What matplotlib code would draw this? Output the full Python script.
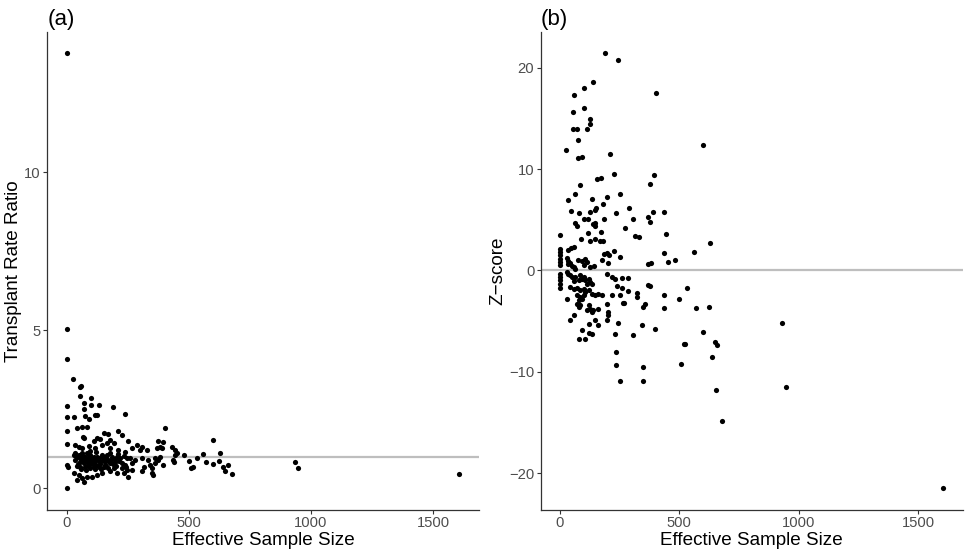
import matplotlib
matplotlib.use('Agg')
import matplotlib.pyplot as plt

plt.rcParams['font.family'] = ['Liberation Sans', 'DejaVu Sans']

# (effective sample size, transplant rate ratio)
ratio_pts = [
    (0, 13.77), (0, 5.03), (0, 4.1), (0, 2.61), (0, 2.25), (0, 1.82), (0, 1.41),
    (0, 0.72), (6, 0.66), (0, 0.02),
    (23, 3.47), (52, 3.2), (58, 3.25), (52, 2.93), (68, 2.69), (98, 2.84),
    (72, 2.51), (98, 2.63), (133, 2.63), (190, 2.57), (31, 2.25), (75, 2.29),
    (89, 2.19), (113, 2.32), (123, 2.32), (239, 2.36),
    (43, 1.90), (61, 1.95), (82, 1.95), (402, 1.90), (211, 1.81),
    (65, 1.63), (71, 1.58), (150, 1.74), (170, 1.71), (225, 1.67), (177, 1.53),
    (123, 1.58), (136, 1.55), (109, 1.50), (252, 1.50), (286, 1.37), (307, 1.29),
    (327, 1.21), (375, 1.48), (382, 1.32), (368, 1.26), (395, 1.47), (389, 1.27),
    (430, 1.29), (443, 1.21), (164, 1.42), (191, 1.42), (143, 1.37), (89, 1.34),
    (34, 1.37), (48, 1.32), (61, 1.26), (116, 1.26), (177, 1.26), (211, 1.21),
    (239, 1.16), (266, 1.26), (300, 1.21),
    (27, 1.05), (41, 1.00), (54, 0.95), (75, 1.00), (95, 1.05), (109, 1.00),
    (123, 1.00), (143, 1.05), (164, 1.05), (184, 1.00), (204, 1.00), (218, 0.95),
    (245, 0.95), (259, 0.95), (280, 0.90), (307, 0.95), (334, 0.90), (361, 0.95),
    (382, 1.00), (443, 1.05), (450, 1.11), (34, 0.90), (54, 0.84), (68, 0.79),
    (89, 0.84), (102, 0.79), (116, 0.86), (136, 0.84), (157, 0.82), (177, 0.79),
    (198, 0.84), (225, 0.79), (239, 0.74), (266, 0.79), (314, 0.68), (341, 0.74),
    (361, 0.79), (375, 0.90), (54, 0.68), (75, 0.68), (95, 0.63), (109, 0.68),
    (130, 0.68), (150, 0.68), (170, 0.63), (191, 0.65), (225, 0.63), (245, 0.58),
    (266, 0.58), (348, 0.63), (395, 0.74), (436, 0.88), (438, 0.82),
    (62, 1.10), (82, 1.12), (100, 0.92), (118, 1.15), (130, 0.95), (148, 0.90),
    (160, 0.96), (195, 0.92), (210, 1.08), (232, 1.02), (85, 0.72), (120, 0.75),
    (140, 0.62), (160, 0.70), (70, 0.92), (45, 0.78), (96, 1.18), (175, 1.12),
    (35, 1.12), (48, 1.05), (58, 0.88), (66, 1.02), (78, 0.86), (88, 0.96),
    (92, 0.74), (104, 0.88), (112, 0.72), (126, 0.90), (134, 0.76), (146, 0.98),
    (154, 0.74), (168, 0.88), (182, 0.90), (188, 0.76), (58, 0.60), (80, 0.58),
    (115, 0.60), (200, 0.70), (215, 0.86), (40, 0.70),
    (27, 0.47), (48, 0.42), (61, 0.32), (82, 0.37), (102, 0.37), (123, 0.42),
    (143, 0.47), (177, 0.53), (204, 0.47), (232, 0.47), (252, 0.34), (307, 0.53),
    (348, 0.47), (351, 0.42), (243, 0.68), (41, 0.26), (68, 0.21),
    (480, 1.04), (532, 0.95), (500, 0.87), (518, 0.68), (507, 0.63), (569, 0.84),
    (600, 0.76), (600, 1.53), (559, 1.09), (627, 1.12), (623, 0.86), (638, 0.68),
    (649, 0.55), (659, 0.72), (675, 0.44), (934, 0.84), (945, 0.65), (1608, 0.45),
]

# (effective sample size, z-score)
z_pts = [
    (190, 21.4), (242, 20.8), (137, 18.6), (100, 18.0), (61, 17.3), (403, 17.5),
    (53, 15.6), (100, 16.0), (128, 14.9), (128, 14.4), (53, 13.9), (71, 13.9),
    (114, 13.9), (77, 12.9), (25, 11.9), (600, 12.4), (77, 11.1), (92, 11.2),
    (210, 11.5), (225, 9.5), (156, 9.0), (173, 9.1), (85, 8.4), (377, 8.5),
    (396, 9.4), (64, 7.5), (250, 7.5), (33, 6.9), (135, 7.0), (198, 7.2),
    (181, 6.5), (153, 6.2), (149, 6.0), (46, 5.9), (79, 5.7), (125, 5.8),
    (233, 5.7), (288, 6.2), (392, 5.8), (435, 5.8), (63, 4.7), (70, 4.4),
    (100, 5.1), (117, 5.1), (139, 4.6), (149, 4.7), (149, 4.4), (183, 5.1),
    (308, 5.1), (370, 5.25), (379, 4.76), (271, 4.2), (173, 3.8), (117, 3.7),
    (2, 3.44), (315, 3.4), (332, 3.3), (444, 3.6), (88, 3.05), (124, 2.86),
    (149, 3.1), (167, 2.86), (181, 2.86), (628, 2.7), (33, 2.04), (47, 2.2),
    (61, 2.3), (2, 2.13), (2, 1.8), (2, 1.48), (2, 1.15), (2, 0.82), (2, 0.49),
    (183, 1.6), (176, 1.05), (225, 1.9), (250, 1.3), (203, 0.75), (436, 1.7),
    (561, 1.8), (452, 0.8), (482, 1.0), (368, 0.66), (382, 0.72), (77, 1.0),
    (107, 1.1), (114, 0.8), (142, 0.46), (128, 0.33), (28, 1.2), (35, 0.9),
    (42, 0.75), (196, 1.7), (205, 1.5), (92, 0.9), (99, 0.55), (57, 0.3),
    (64, 0.15), (36, 0.6), (50, 0.45),
    (2, -0.33), (2, -0.66), (2, -0.99), (2, -1.31), (2, -1.71),
    (29, -0.16), (36, -0.33), (43, -0.49), (50, -0.66), (64, -0.66), (85, -0.49),
    (99, -0.66), (78, -0.92), (92, -0.89), (57, -1.08), (106, -0.99), (120, -0.82),
    (126, -1.15), (133, -1.31), (113, -1.31), (43, -1.64), (57, -1.81), (71, -1.74),
    (85, -1.97), (99, -1.87), (106, -2.14), (120, -1.97), (133, -2.3), (147, -2.46),
    (161, -2.3), (175, -2.4), (71, -2.46), (85, -2.63), (99, -2.46), (92, -2.79),
    (78, -2.96), (29, -2.86), (71, -3.28), (78, -3.61), (85, -3.45), (120, -3.45),
    (126, -3.78), (133, -4.1), (140, -3.94), (113, -3.94), (161, -3.78),
    (196, -3.28), (203, -4.1), (203, -4.44), (57, -4.44), (43, -4.92),
    (120, -5.25), (147, -4.92), (161, -5.42), (196, -4.92), (245, -5.16),
    (92, -5.91), (120, -6.14), (133, -6.24), (78, -6.73), (106, -6.8),
    (231, -6.24), (307, -6.34), (342, -5.42), (397, -5.75), (267, -3.18),
    (196, -0.33), (217, -0.66), (231, -0.82), (259, -0.76), (286, -0.76),
    (238, -1.58), (259, -1.74), (286, -2.07), (220, -2.46), (252, -2.46),
    (321, -2.2), (370, -1.48), (377, -1.58), (265, -3.2), (321, -2.63),
    (356, -3.28), (349, -3.61),
    (531, -1.71), (436, -2.46), (500, -2.86), (437, -3.74), (570, -3.68),
    (624, -3.61), (600, -6.1), (518, -7.3), (523, -7.3), (649, -7.1), (660, -7.4),
    (506, -9.2), (638, -8.6), (652, -11.8), (677, -14.9), (236, -8.05),
    (233, -9.36), (350, -9.49), (250, -10.9), (350, -10.94),
    (932, -5.2), (948, -11.5), (1604, -21.5),
]

x_ticks = [0, 500, 1000, 1500]
ratio_ticks = [0, 5, 10]
z_ticks = [-20, -10, 0, 10, 20]

W, H = 969, 554
fig = plt.figure(figsize=(W / 100, H / 100), dpi=100)
axa = fig.add_axes([47.3 / W, 44 / H, 431.7 / W, 478.3 / H])
axb = fig.add_axes([540.7 / W, 44 / H, 422.3 / W, 478.3 / H])


def style(ax):
    for side in ['top', 'right']:
        ax.spines[side].set_visible(False)
    for side in ['left', 'bottom']:
        ax.spines[side].set_color('#333333')
        ax.spines[side].set_linewidth(0.9)
    ax.tick_params(direction='out', length=2.6, width=0.8, color='#333333',
                   labelcolor='#4D4D4D', labelsize=10.6, pad=2)
    ax.set_xlim(-80.4, 1688.4)
    ax.set_xticks(x_ticks)
    ax.set_xlabel('Effective Sample Size', fontsize=13.6, labelpad=1.5)


# panel (a)
ax = axa
style(ax)
ax.axhline(1, color='#BEBEBE', lw=1.6, zorder=1)
ax.scatter([p[0] for p in ratio_pts], [p[1] for p in ratio_pts],
           s=14, color='black', linewidths=0, zorder=2)
ax.set_ylim(-0.69, 14.45)
ax.set_yticks(ratio_ticks)
ax.set_ylabel('Transplant Rate Ratio', fontsize=13.6, labelpad=2)
ax.set_title('(a)', loc='left', fontsize=16, pad=4.5)

# panel (b)
ax = axb
style(ax)
ax.axhline(0, color='#BEBEBE', lw=1.6, zorder=1)
ax.scatter([p[0] for p in z_pts], [p[1] for p in z_pts],
           s=14, color='black', linewidths=0, zorder=2)
ax.set_ylim(-23.65, 23.55)
ax.set_yticks(z_ticks)
ax.set_ylabel('Z\u2212score', fontsize=13.6, labelpad=2)
ax.set_title('(b)', loc='left', fontsize=16, pad=4.5)

fig.savefig('out.png', dpi=100)
